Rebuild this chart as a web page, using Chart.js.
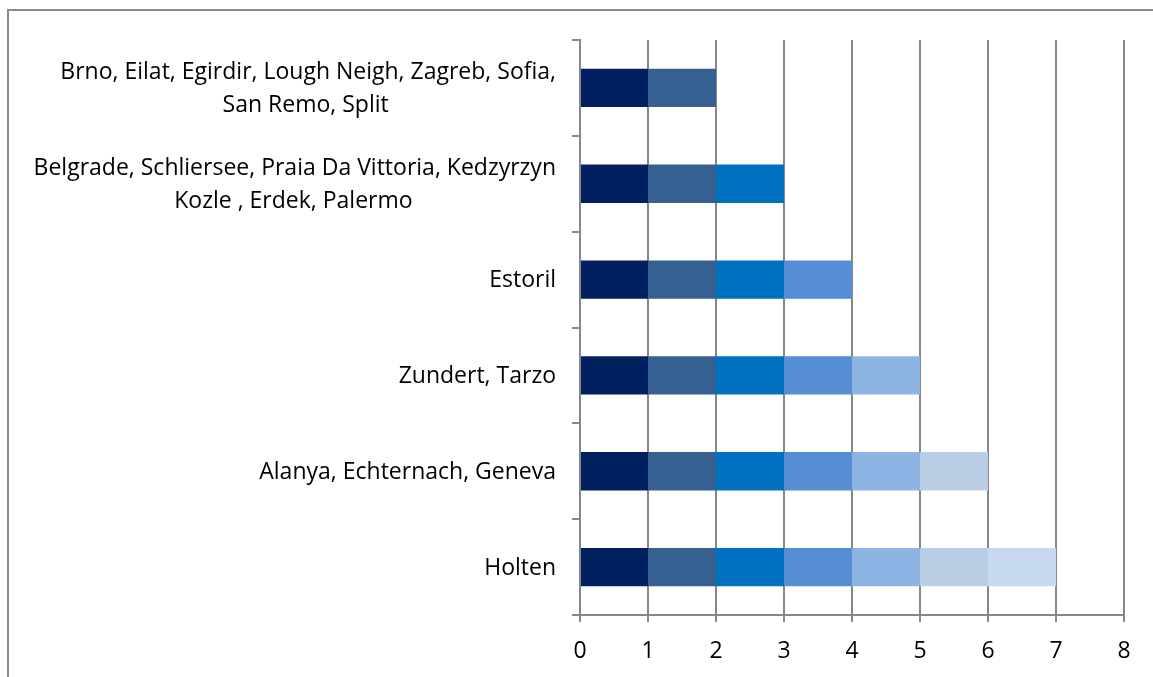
<!DOCTYPE html>
<html>
<head>
<meta charset="utf-8">
<script src="https://cdn.jsdelivr.net/npm/chart.js@4"></script>
<style>
  body { margin: 0; background: #fff; }
  #wrap { position: relative; width: 1153px; height: 677px; }
  #frame { position: absolute; left: 7px; top: 9px; right: 0; bottom: 0;
           border-left: 2px solid #8c8c8c; border-top: 2px solid #8c8c8c; }
  canvas { position: absolute; left: 0; top: 0; }
</style>
</head>
<body>
<div id="wrap">
  <div id="frame"></div>
  <canvas id="chart" width="1153" height="677"></canvas>
</div>
<script>
const cities = [
    ['Brno, Eilat, Egirdir, Lough Neigh, Zagreb, Sofia,', 'San Remo, Split'],
    ['Belgrade, Schliersee, Praia Da Vittoria, Kedzyrzyn', 'Kozle , Erdek, Palermo'],
    'Estoril',
    'Zundert, Tarzo',
    'Alanya, Echternach, Geneva',
    'Holten'
];

const series1 = [1, 1, 1, 1, 1, 1];
const series2 = [1, 1, 1, 1, 1, 1];
const series3 = [null, 1, 1, 1, 1, 1];
const series4 = [null, null, 1, 1, 1, 1];
const series5 = [null, null, null, 1, 1, 1];
const series6 = [null, null, null, null, 1, 1];
const series7 = [null, null, null, null, null, 1];

const xTicks = [0, 1, 2, 3, 4, 5, 6, 7, 8];

const colors = ['#002060', '#366092', '#0070c0', '#558ed5', '#8eb4e3', '#b9cde5', '#c6d9f1'];
const allSeries = [series1, series2, series3, series4, series5, series6, series7];

const gridColor = '#878787';
const fontFamily = "'Open Sans', sans-serif";
const fontSize = 23;

// labels are right aligned, but wrapped lines are centred on each other:
// pad the shorter lines with trailing spaces
const measureCtx = document.createElement('canvas').getContext('2d');
measureCtx.font = fontSize + 'px ' + fontFamily;
function centreLines(label) {
    if (!Array.isArray(label)) return label;
    const widths = label.map(function (l) { return measureCtx.measureText(l).width; });
    const widest = Math.max.apply(null, widths);
    const space = measureCtx.measureText(' ').width;
    return label.map(function (l, i) {
        return l + ' '.repeat(Math.round((widest - widths[i]) / 2 / space));
    });
}

const config = {
    type: 'bar',
    data: {
        labels: cities.map(centreLines),
        datasets: allSeries.map(function (values, i) {
            return {
                label: 'Series ' + (i + 1),
                data: values,
                backgroundColor: colors[i],
                borderWidth: 0,
                barPercentage: 0.4,
                categoryPercentage: 1
            };
        })
    },
    options: {
        indexAxis: 'y',
        responsive: false,
        animation: false,
        layout: { padding: { top: 40, right: 29, left: 0, bottom: 0 } },
        plugins: {
            legend: { display: false },
            tooltip: { enabled: false }
        },
        scales: {
            x: {
                stacked: true,
                min: xTicks[0],
                max: xTicks[xTicks.length - 1],
                ticks: { stepSize: 1, color: '#000', font: { family: fontFamily, size: fontSize }, padding: 16 },
                grid: { color: gridColor, lineWidth: 2, tickLength: 7 },
                border: { color: gridColor, width: 2 },
                afterFit: function (scale) { scale.height = 62; }
            },
            y: {
                stacked: true,
                ticks: { color: '#000', font: { family: fontFamily, size: fontSize, lineHeight: 1.43 }, padding: 16, labelOffset: 1 },
                grid: { offset: true, drawOnChartArea: false, color: gridColor, lineWidth: 2, tickLength: 8 },
                border: { color: gridColor, width: 2 },
                afterFit: function (scale) { scale.width = 580; }
            }
        }
    }
};

new Chart(document.getElementById('chart'), config);
</script>
</body>
</html>
